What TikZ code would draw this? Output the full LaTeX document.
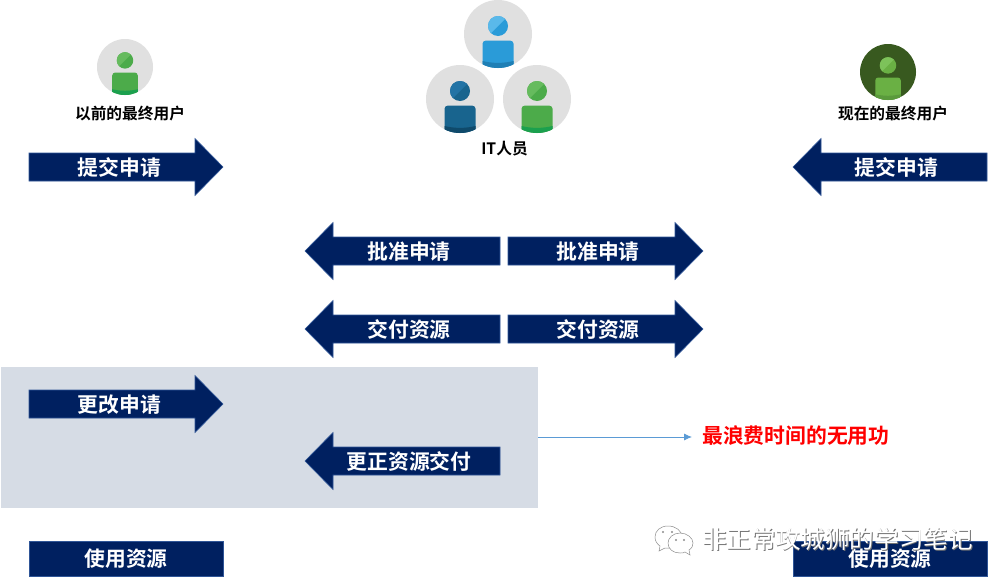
\documentclass[tikz,border=0pt]{standalone}
\usepackage{fontspec}
\setmainfont{Noto Sans CJK SC}[BoldFont={Noto Sans CJK SC Bold}]
\usetikzlibrary{arrows.meta}
\definecolor{navy}{HTML}{002060}
\definecolor{navyedge}{HTML}{2F5597}
\definecolor{panel}{HTML}{D6DCE5}
\definecolor{linkblue}{HTML}{5B9BD5}
\definecolor{disc}{HTML}{E0E0E0}
\tikzset{
  x=1pt,y=-1pt,
  navyshape/.style={fill=navy,draw=navyedge,line width=0.6pt},
  navytext/.style={text=white,font=\fontsize{20.8}{21}\selectfont\bfseries,inner sep=0pt},
  caption/.style={text=black,font=\fontsize{15.7}{16}\selectfont\bfseries,inner sep=0pt},
}
% name, body start x, centre y, tip x, text x, text  (either direction)
\newcommand{\flowarrow}[7][28]{%
  \pgfmathsetmacro{\hd}{\ifdim#5pt>#3pt -#1\else #1\fi}%
  \path[navyshape] (#3,#4-14) -- (#5+\hd,#4-14) -- (#5+\hd,#4-28.5) -- (#5,#4) -- (#5+\hd,#4+28.5) -- (#5+\hd,#4+14) -- (#3,#4+14) -- cycle;
  \node[navytext] (#2) at (#6,#4.5) {#7};}
% name, cx, cy, r, disc, head light, head dark, body, band
\newcommand{\person}[9]{%
  \pgfmathsetmacro{\s}{#4/34}%
  \node[circle,fill=#5,minimum size=#4*2pt,inner sep=0pt] (#1) at (#2,#3) {};
  \begin{scope}[shift={(#2,#3)},scale=\s]
    \clip (0,0) circle[radius=34];
    \fill[#8,rounded corners=3pt] (-15.5,6.7) rectangle (15.5,50);
    \fill[#9] (-15.5,27) .. controls (-5,29.5) and (5,29.5) .. (15.5,27) -- (15.5,40) -- (-15.5,40) -- cycle;
    \fill[#7] (0,-8) circle[radius=10];
    \begin{scope}
      \clip (0,-8) circle[radius=10];
      \fill[#6] (-11,3) -- (-11,-19) -- (11,-19) -- cycle;
    \end{scope}
  \end{scope}}
\begin{document}
\begin{tikzpicture}
\useasboundingbox (0,0) rectangle (1008,584);
\fill[white] (0,0) rectangle (1008,584);
\definecolor{hlb}{HTML}{5AB9EA}\definecolor{hdb}{HTML}{2A9BD8}\definecolor{bb}{HTML}{1F7FB5}
\definecolor{hln}{HTML}{2273A5}\definecolor{hdn}{HTML}{18648E}\definecolor{bn}{HTML}{0F4A6B}
\definecolor{hlg}{HTML}{66BB5E}\definecolor{hdg}{HTML}{4CAB4A}\definecolor{bg}{HTML}{1BA04E}
\definecolor{dk}{HTML}{38591F}\definecolor{hlk}{HTML}{7DC25A}\definecolor{hdk}{HTML}{6AB044}\definecolor{bk}{HTML}{5A9A3C}

\node[fill=panel,minimum width=537pt,minimum height=141pt,inner sep=0pt] (panelbox) at (269.5,437.5) {};

\person{oldp}{125}{67}{28}{disc}{hlg}{hdg}{hdg}{bg}
\person{newp}{888}{72}{28}{dk}{hlk}{hdk}{hdk}{bk}
\person{itb}{498}{34}{34}{disc}{hlb}{hdb}{hdb}{bb}
\person{itn}{460}{99}{34}{disc}{hln}{hdn}{hdn}{bn}
\person{itg}{537}{99}{34}{disc}{hlg}{hdg}{hdg}{bg}

\node[caption] (oldt) at (130,114) {以前的最终用户};
\node[caption] (newt) at (893,114) {现在的最终用户};
\node[caption] (itt) at (504.5,149) {IT人员};

\flowarrow{a1}{29}{167}{223}{119.5}{提交申请}
\flowarrow{a2}{987}{167}{793}{896.5}{提交申请}
\flowarrow{a3}{500}{251}{305}{409}{批准申请}
\flowarrow{a4}{508}{251}{703}{598}{批准申请}
\flowarrow{a5}{500}{329}{305}{409}{交付资源}
\flowarrow{a6}{508}{329}{703}{598}{交付资源}
\flowarrow{a7}{29}{404}{223}{119.5}{更改申请}
\flowarrow{a8}{500}{461}{305}{409}{更正资源交付}

\node[navyshape,minimum width=194pt,minimum height=35pt,inner sep=0pt] (u1) at (126,558.5) {};
\node[navytext] at (u1) {使用资源};
\node[navyshape,minimum width=194pt,minimum height=35pt,inner sep=0pt] (u2) at (890,558.5) {};
\node[navytext] at (u2) {使用资源};

\node[text=red,font=\fontsize{20.8}{21}\selectfont\bfseries,inner sep=0pt,anchor=west] (waste) at (702,435.5) {最浪费时间的无用功};
\draw[linkblue,line width=0.8pt,-{Latex[length=8pt,width=7pt]}] (panelbox.east |- 0,437) -- (692,437);

% watermark
\node[text=black!55,font=\fontsize{24.6}{25}\selectfont,inner sep=0pt,anchor=west] (wms) at (702.8,539.8) {非正常攻城狮的学习笔记};
\node[text=white,font=\fontsize{24.6}{25}\selectfont,inner sep=0pt,anchor=west] (wm) at (702,539) {非正常攻城狮的学习笔记};
\draw[black!45,fill=white,line width=0.5pt] (668,526) .. controls (660,526) and (655,531) .. (655,537) .. controls (655,541) and (657,544) .. (660,546) -- (659,551) -- (665,548) .. controls (672,549) and (682,546) .. (682,537) .. controls (682,531) and (676,526) .. (668,526) -- cycle;
\draw[black!45,fill=white,line width=0.5pt] (680,533) .. controls (673,533) and (668,538) .. (668,543) .. controls (668,549) and (673,553) .. (680,553) .. controls (682,553) and (684,553) .. (685,552) -- (690,555) -- (689,550) .. controls (692,548) and (693,546) .. (693,543) .. controls (693,538) and (687,533) .. (680,533) -- cycle;
\fill[black!45] (663,532) circle[radius=1.1] (672,532) circle[radius=1.1] (676,540) circle[radius=1.1] (684,540) circle[radius=1.1];
\end{tikzpicture}
\end{document}
